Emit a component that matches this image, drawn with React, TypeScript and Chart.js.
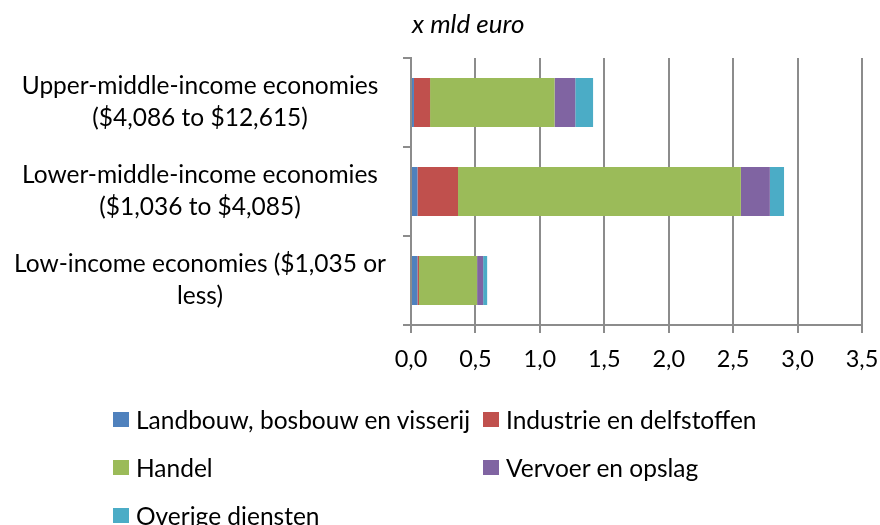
import React, { useEffect, useRef } from "react";
import { Chart, registerables } from "chart.js";

Chart.register(...registerables);

const categories: (string | string[])[] = [
  ["Upper-middle-income economies", "($4,086 to $12,615)"],
  ["Lower-middle-income economies", "($1,036 to $4,085)"],
  ["Low-income economies ($1,035 or", "less)"],
];

const seriesNames = [
  "Landbouw, bosbouw en visserij",
  "Industrie en delfstoffen",
  "Handel",
  "Vervoer en opslag",
  "Overige diensten",
];

const landbouw = [0.023, 0.05, 0.05];
const industrie = [0.125, 0.315, 0.012];
const handel = [0.966, 2.195, 0.451];
const vervoer = [0.161, 0.225, 0.047];
const overige = [0.138, 0.11, 0.031];

const seriesColors = ["#4F81BD", "#C0504D", "#9BBB59", "#8064A2", "#4BACC6"];

const xMin = 0;
const xMax = 3.5;
const xStep = 0.5;
const unitTitle = "x mld euro";

const FONT = "Lato, 'Noto Sans', sans-serif";
const GRID = "#8c8c8c";

export default function App() {
  const ref = useRef<HTMLCanvasElement | null>(null);

  useEffect(() => {
    if (!ref.current) return;
    const values = [landbouw, industrie, handel, vervoer, overige];
    const titlePlugin = {
      id: "unitTitle",
      afterDraw(chart: any) {
        const ctx = chart.ctx;
        ctx.save();
        ctx.font = `italic 26px ${FONT}`;
        ctx.fillStyle = "#000";
        ctx.textAlign = "left";
        ctx.textBaseline = "alphabetic";
        ctx.fillText(unitTitle, chart.chartArea.left + 1, 33);
        ctx.restore();
      },
    };
    const chart = new Chart(ref.current, {
      type: "bar",
      data: {
        labels: categories,
        datasets: seriesNames.map((name, i) => ({
          label: name,
          data: values[i],
          backgroundColor: seriesColors[i],
          borderWidth: 0,
          barPercentage: 0.55,
          categoryPercentage: 1,
        })),
      },
      options: {
        indexAxis: "y",
        animation: false,
        responsive: false,
        layout: { padding: { top: 58, right: 18, left: 0, bottom: 0 } },
        plugins: {
          legend: { display: false },
          tooltip: { enabled: false },
        },
        scales: {
          x: {
            stacked: true,
            min: xMin,
            max: xMax,
            ticks: {
              stepSize: xStep,
              color: "#000",
              padding: 12,
              font: { family: FONT, size: 23.5 },
              callback: (v: any) => Number(v).toFixed(1).replace(".", ","),
            },
            grid: { color: GRID, lineWidth: 2, tickLength: 8 },
            border: { color: GRID, width: 2 },
            afterFit: (s: any) => {
              s.height = 200;
              s.paddingLeft = 0;
              s.paddingRight = 0;
            },
          },
          y: {
            stacked: true,
            ticks: {
              color: "#000",
              padding: 17,
              crossAlign: "center",
              font: { family: FONT, size: 24.5, lineHeight: 1.3 },
            },
            grid: { color: GRID, lineWidth: 2, tickLength: 8, drawOnChartArea: false },
            border: { color: GRID, width: 2 },
            afterFit: (s: any) => {
              s.width = 411;
              s.paddingTop = 0;
              s.paddingBottom = 0;
            },
          },
        },
      },
      plugins: [titlePlugin],
    });
    return () => chart.destroy();
  }, []);

  return (
    <div style={{ position: "absolute", left: 0, top: 0, width: 880, height: 525, background: "#fff", overflow: "hidden" }}>
      <canvas ref={ref} width={880} height={525} style={{ display: "block" }} />
      <div
        style={{
          position: "absolute",
          left: 113,
          top: 395,
          display: "grid",
          gridTemplateColumns: "370px auto",
          gridAutoRows: "48px",
          fontFamily: FONT,
          fontSize: 24.5,
          color: "#000",
        }}
      >
        {seriesNames.map((name, i) => (
          <div key={name} style={{ display: "flex", alignItems: "center", whiteSpace: "nowrap" }}>
            <span
              style={{
                display: "inline-block",
                width: 16,
                height: 15,
                background: seriesColors[i],
                marginRight: 7,
              }}
            />
            <span>{name}</span>
          </div>
        ))}
      </div>
    </div>
  );
}
